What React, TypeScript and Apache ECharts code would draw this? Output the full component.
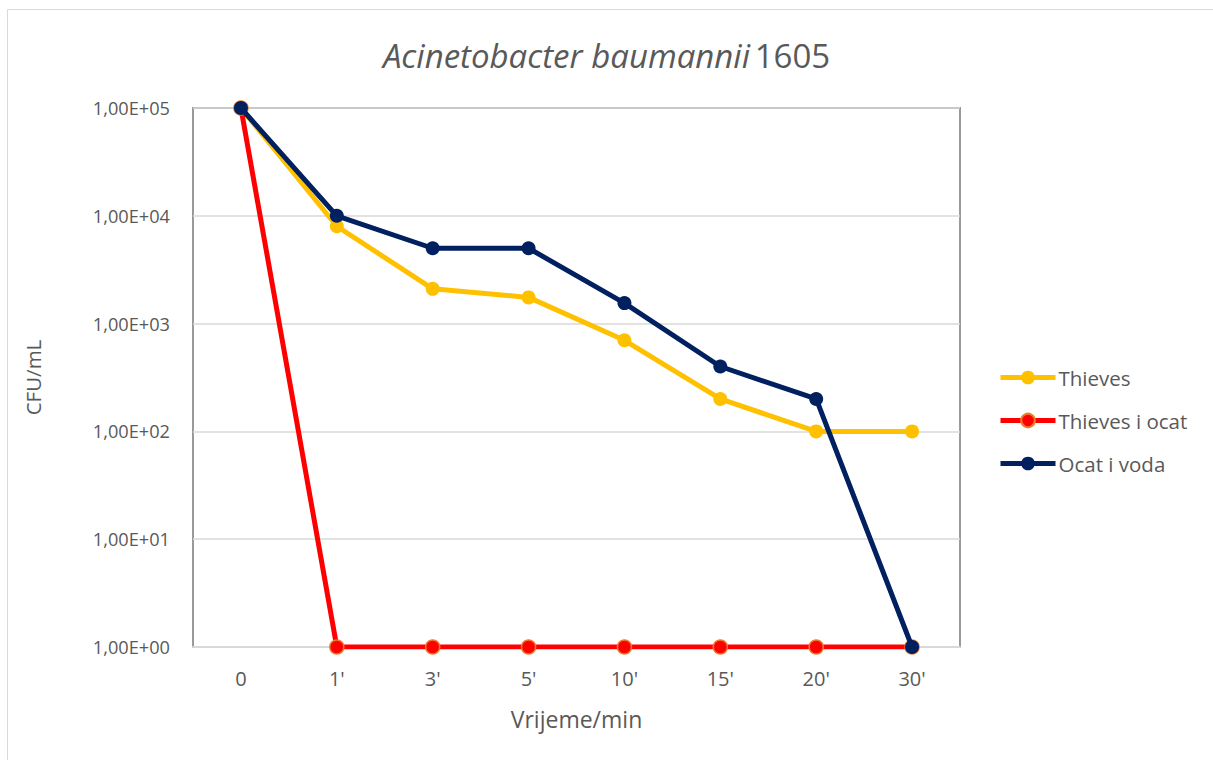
import React, { useEffect, useRef } from "react";
import * as echarts from "echarts";

const categories = ["0", "1'", "3'", "5'", "10'", "15'", "20'", "30'"];
const thieves = [100000, 8000, 2100, 1750, 700, 200, 100, 100];
const thievesOcat = [100000, 1, 1, 1, 1, 1, 1, 1];
const ocatVoda = [100000, 10000, 5000, 5000, 1550, 400, 200, 1];

const FONT = "'Open Sans', 'Noto Sans', sans-serif";
const TXT = "#595959";

function fmt(v: number): string {
  const e = Math.round(Math.log10(v));
  const m = v / Math.pow(10, e);
  const exp = (e < 0 ? "-" : "+") + String(Math.abs(e)).padStart(2, "0");
  return m.toFixed(2).replace(".", ",") + "E" + exp;
}

export default function App() {
  const ref = useRef<HTMLDivElement>(null);
  useEffect(() => {
    if (!ref.current) return;
    const chart = echarts.init(ref.current, null, { renderer: "svg" });
    chart.setOption({
      animation: false,
      backgroundColor: "#ffffff",
      textStyle: { fontFamily: FONT },
      graphic: [
        {
          type: "rect",
          shape: { x: 7.5, y: 9.5, width: 1220, height: 770 },
          style: { fill: "none", stroke: "#d9d9d9", lineWidth: 1 },
          silent: true,
        },
      ],
      title: {
        text: "{i|Acinetobacter baumannii} {n|1605}",
        left: "center",
        top: 34,
        textStyle: {
          fontWeight: "normal",
          rich: {
            i: { fontFamily: FONT, fontStyle: "italic", fontWeight: "normal", fontSize: 33, color: TXT },
            n: { fontFamily: FONT, fontWeight: "normal", fontSize: 33, color: TXT },
          },
        },
      },
      legend: {
        orient: "vertical",
        left: 998,
        top: 367,
        padding: 0,
        itemGap: 22,
        itemWidth: 55,
        itemHeight: 17,
        lineStyle: { width: 5 },
        textStyle: { fontFamily: FONT, fontSize: 20.5, color: TXT, padding: [0, 0, 0, -2] },
        data: ["Thieves", "Thieves i ocat", "Ocat i voda"],
      },
      grid: {
        left: 193,
        right: 253,
        top: 108,
        bottom: 113,
        show: true,
        borderColor: "#9a9a9a",
        borderWidth: 2,
        backgroundColor: "transparent",
      },
      xAxis: {
        type: "category",
        data: categories,
        boundaryGap: true,
        name: "Vrijeme/min",
        nameLocation: "middle",
        nameGap: 60,
        nameTextStyle: { fontFamily: FONT, fontSize: 23, color: TXT },
        axisLine: { show: true, lineStyle: { color: "#d9d9d9", width: 2 } },
        axisTick: { show: false },
        axisLabel: { fontFamily: FONT, fontSize: 20, color: TXT, margin: 21 },
      },
      yAxis: {
        type: "log",
        logBase: 10,
        min: 1,
        max: 100000,
        name: "CFU/mL",
        nameLocation: "middle",
        nameGap: 150,
        nameTextStyle: { fontFamily: FONT, fontSize: 20.5, color: TXT },
        axisLine: { show: false },
        axisTick: { show: false },
        splitLine: { show: true, lineStyle: { color: "#d9d9d9", width: 1.5 } },
        axisLabel: { fontFamily: FONT, fontSize: 18.2, color: TXT, margin: 23, formatter: (v: number) => fmt(v) },
      },
      series: [
        {
          name: "Thieves",
          type: "line",
          data: thieves,
          symbol: "circle",
          symbolSize: 14,
          lineStyle: { color: "#FFC000", width: 5 },
          itemStyle: { color: "#FFC000" },
          z: 2,
        },
        {
          name: "Thieves i ocat",
          type: "line",
          data: thievesOcat,
          symbol: "circle",
          symbolSize: 14,
          lineStyle: { color: "#FF0000", width: 5 },
          itemStyle: { color: "#FF0000", borderColor: "#ED7D31", borderWidth: 1.5 },
          z: 3,
        },
        {
          name: "Ocat i voda",
          type: "line",
          data: ocatVoda,
          symbol: "circle",
          symbolSize: 14,
          lineStyle: { color: "#002060", width: 5 },
          itemStyle: { color: "#002060" },
          z: 4,
        },
      ],
    });
    return () => chart.dispose();
  }, []);
  return (
    <div
      ref={ref}
      style={{ position: "fixed", left: 0, top: 0, width: 1213, height: 760 }}
    />
  );
}
